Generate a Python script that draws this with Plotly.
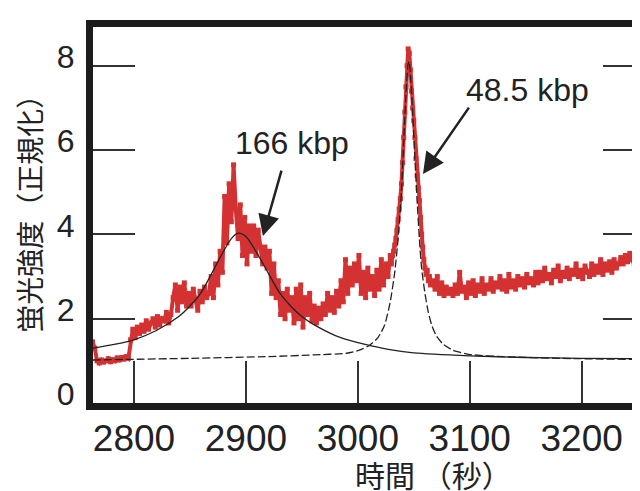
import plotly.graph_objects as go

# ---------------- data ----------------
# sampling times (s) of the measured fluorescence trace
t_a = list(range(2763, 3030, 2))
sig_a = [1.45, 1.30,
         1.00, 0.95, 1.02, 0.97, 1.00, 1.05, 0.98, 1.03, 1.00, 1.07, 1.02, 1.08, 1.04, 1.10, 1.06,
         1.50, 1.75, 1.55,
         1.80, 1.65, 1.85, 1.70, 1.95, 1.75, 1.90, 2.00, 1.80, 2.05, 1.85, 2.00,
         1.95, 2.15, 1.90, 2.10,
         2.50, 2.80, 2.20, 2.75, 2.40, 2.85, 2.30, 2.60,
         2.30, 2.70, 2.45, 2.20, 2.65, 2.40, 2.75, 2.50,
         2.60, 3.00, 2.50, 3.30, 2.80, 3.60, 3.10,
         4.90, 3.80, 5.20, 4.30, 5.65, 4.60, 3.90,
         4.70, 3.50, 4.40, 3.30, 4.20,
         3.60, 4.20, 3.50, 4.10, 3.70,
         3.30, 3.70, 3.20, 3.60,
         2.60, 3.30, 2.50, 2.90,
         2.10, 2.60, 2.00, 2.70, 2.20, 2.50,
         1.90, 2.70, 2.00, 2.80, 1.80, 2.50, 2.10, 2.60,
         1.95, 2.30, 1.90, 2.25, 2.00, 2.35,
         2.10, 2.60, 2.20, 2.50, 2.15, 2.65,
         2.30, 2.90, 2.40, 3.40, 2.60, 3.20, 2.80,
         3.30, 2.90, 3.50,
         2.60, 3.10, 2.50, 3.20, 2.70, 3.00, 2.55, 3.15,
         2.70, 3.40, 2.80, 3.30, 3.00, 3.50]
t_b = list(range(3030, 3066))
sig_b = [3.30, 3.50, 3.60, 3.75, 3.90, 4.10, 4.35, 4.60, 4.85, 5.20,
         5.70, 6.30, 6.90, 7.50, 8.00, 8.40, 8.30, 7.90, 7.40, 7.00,
         6.70, 6.30, 5.80, 5.40, 5.10, 4.80, 4.40, 4.00, 3.70, 3.40,
         3.20, 3.05, 3.15, 2.90, 3.00, 2.80]
t_c = list(range(3067, 3256, 2))
sig_c = [2.90, 2.70, 3.00, 2.60, 2.85, 2.55, 2.75, 2.60, 2.70,
         2.55, 2.80, 2.60, 3.10, 2.65, 2.75, 2.50, 2.85, 2.60, 2.90, 2.55, 2.80, 2.65, 2.95, 2.60, 2.80,
         2.70, 2.95, 2.65, 2.85, 2.75, 3.00, 2.70, 2.90, 2.65, 3.05, 2.75, 2.90, 2.70, 3.00, 2.80, 2.95,
         2.75, 3.05, 2.85, 2.95, 2.80, 3.10,
         2.85, 3.10, 2.90, 3.20, 2.95, 3.05, 2.85, 3.15, 3.00, 3.25, 2.90, 3.10, 3.00, 3.20, 2.95, 3.15,
         3.05, 3.30, 3.00, 3.15, 2.95, 3.25, 3.10,
         3.00, 3.30, 3.05, 3.25, 3.10, 3.40, 3.05, 3.30, 3.15, 3.35, 3.10, 3.40, 3.20, 3.30, 3.45,
         3.30, 3.50, 3.35, 3.55, 3.40, 3.30, 3.45, 3.20, 3.35, 3.25]

# fitted peak for 166 kbp (solid)
fit1_t = [2763, 2780, 2800, 2820, 2840, 2850, 2860, 2870, 2880, 2887, 2893, 2900, 2910, 2920,
          2930, 2940, 2950, 2960, 2980, 3000, 3011, 3030, 3050, 3100, 3150, 3200, 3257]
fit1_y = [1.30, 1.38, 1.50, 1.72, 2.05, 2.30, 2.62, 3.10, 3.60, 3.90, 4.03, 3.95, 3.55, 3.08,
          2.62, 2.30, 2.05, 1.87, 1.60, 1.43, 1.36, 1.26, 1.19, 1.12, 1.08, 1.06, 1.05]

# fitted peak for 48.5 kbp (dashed)
fit2_t = [2763, 2850, 2920, 2960, 2990, 3000, 3010, 3018, 3024, 3029, 3033, 3036, 3039, 3041,
          3043, 3045, 3046, 3047, 3049, 3051, 3053, 3055, 3057, 3060, 3063, 3066, 3070, 3076,
          3085, 3100, 3130, 3180, 3257]
fit2_y = [1.02, 1.06, 1.10, 1.14, 1.18, 1.24, 1.36, 1.55, 1.85, 2.40, 3.10, 3.90, 5.00, 6.20,
          7.30, 8.05, 8.10, 7.80, 6.90, 5.80, 4.80, 3.90, 3.20, 2.60, 2.15, 1.85, 1.60, 1.40,
          1.25, 1.15, 1.10, 1.06, 1.03]

x_ticks = [2800, 2900, 3000, 3100, 3200]
y_ticks = [0, 2, 4, 6, 8]

x_title = "時間 （秒）"
y_title = "蛍光強度（正規化）"
label_166 = "166 kbp"
label_485 = "48.5 kbp"

# ---------------- figure ----------------
RED = "#d43232"
INK = "#222222"
FONT = "Liberation Sans, Arial, sans-serif"
CJK = "Noto Sans CJK JP, sans-serif"

fig = go.Figure()
fig.add_trace(go.Scatter(
    x=t_a + t_b + t_c, y=sig_a + sig_b + sig_c,
    mode="lines+markers",
    line=dict(color=RED, width=4),
    marker=dict(color=RED, size=5, symbol="square"),
    hoverinfo="skip", showlegend=False))
fig.add_trace(go.Scatter(
    x=fit1_t, y=fit1_y, mode="lines",
    line=dict(color=INK, width=1.3, shape="spline", smoothing=0.8),
    showlegend=False))
fig.add_trace(go.Scatter(
    x=fit2_t, y=fit2_y, mode="lines",
    line=dict(color=INK, width=1.3, dash="8px,3px", shape="spline", smoothing=0.5),
    showlegend=False))

# the page body adds an 8 px offset; plot frame is laid out with that in mind
fig.update_layout(
    width=660, height=491,
    margin=dict(l=85, r=23, t=12, b=96),
    paper_bgcolor="white", plot_bgcolor="white",
    showlegend=False,
    xaxis=dict(range=[2763.4, 3256.6], tickvals=x_ticks,
               showline=True, linewidth=7, linecolor="#1c1c1c", mirror=True,
               ticks="inside", ticklen=42, tickwidth=1.5, tickcolor="#333333",
               tickfont=dict(family=FONT, size=37, color=INK),
               ticklabelstandoff=-3,
               showgrid=False, zeroline=False),
    yaxis=dict(range=[0, 8.92], tickvals=y_ticks,
               showline=True, linewidth=7, linecolor="#1c1c1c", mirror="ticks",
               ticks="inside", ticklen=42, tickwidth=1.5, tickcolor="#333333",
               tickfont=dict(family=FONT, size=32, color=INK),
               ticklabelshift=-9, ticklabelstandoff=5,
               showgrid=False, zeroline=False),
    annotations=[
        dict(text=x_title, xref="paper", yref="paper", x=0.617, y=-0.19,
             showarrow=False, font=dict(family=CJK, size=30, color=INK),
             xanchor="center", yanchor="middle"),
        dict(text=y_title, xref="paper", yref="paper", x=-0.116, y=0.522,
             showarrow=False, textangle=-90, font=dict(family=CJK, size=28, color=INK),
             xanchor="center", yanchor="middle"),
        dict(text=label_166, x=2941.2, y=6.17, xref="x", yref="y", showarrow=False,
             font=dict(family=FONT, size=32, color=INK)),
        dict(text=label_485, x=3151.6, y=7.43, xref="x", yref="y", showarrow=False,
             font=dict(family=FONT, size=32, color=INK)),
        dict(text="", x=2915.2, y=3.96, xref="x", yref="y", showarrow=True,
             ax=19, ay=-67, arrowhead=2, arrowsize=1.7, arrowwidth=2.5, arrowcolor=INK),
        dict(text="", x=3058.2, y=5.43, xref="x", yref="y", showarrow=True,
             ax=47, ay=-68, arrowhead=2, arrowsize=1.7, arrowwidth=2.5, arrowcolor=INK),
    ],
)

fig.write_html("out.html")
